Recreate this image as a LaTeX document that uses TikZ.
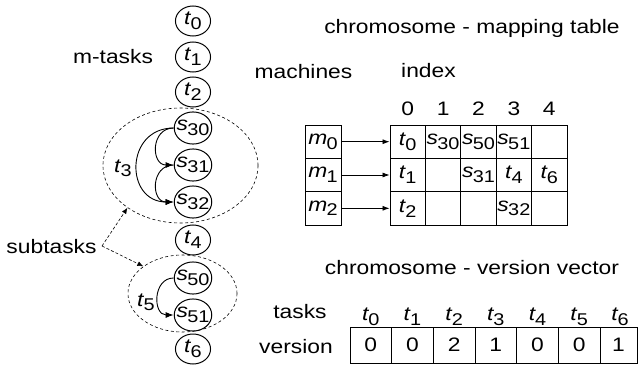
\documentclass[tikz,border=0pt]{standalone}
\usepackage{fontspec}
\setmainfont{Liberation Sans}
\usepackage{graphicx}
\usetikzlibrary{arrows.meta,shapes.geometric}
\newcommand{\tsb}[2]{\textit{#1}\kern-0.03em\raisebox{-0.25em}{\fontsize{17}{17}\selectfont #2}}
\begin{document}
\begin{tikzpicture}[x=1pt,y=-1pt,
  every node/.style={xscale=1.17, inner sep=0pt, font=\fontsize{19.5}{22}\selectfont},
  tk/.style={circle, draw, line width=1pt, minimum size=30pt},
  lbl/.style={anchor=base},
  mcell/.style={draw, line width=0.8pt, minimum width=30.26pt, minimum height=33.33pt},
  vcell/.style={draw, line width=0.8pt, minimum width=35.6pt, minimum height=36pt},
  grp/.style={ellipse, draw, dash pattern=on 3pt off 2.5pt, line width=0.6pt},
  arr/.style={-{Latex[length=8pt,width=6pt]}, line width=0.9pt},
  darr/.style={dash pattern=on 3pt off 2pt, line width=0.6pt, -{Latex[length=6pt,width=5pt]}},
  marr/.style={line width=0.7pt, -{Latex[length=7pt,width=5pt]}}
]
\useasboundingbox (0,0) rectangle (638,372);
% groups
\node[grp, minimum width=132.5pt, minimum height=115pt] (e3) at (180.5,165.5) {};
\node[grp, minimum width=93.2pt, minimum height=77pt] (e5) at (182.5,293.5) {};
% task column
\node[tk] (t0) at (193,21) {\tsb{t}{0}};
\node[tk] (t1) at (193,57) {\tsb{t}{1}};
\node[tk] (t2) at (193,92) {\tsb{t}{2}};
\node[tk] (s30) at (193,128) {\tsb{s}{30}};
\node[tk] (s31) at (193,165) {\tsb{s}{31}};
\node[tk] (s32) at (193,202) {\tsb{s}{32}};
\node[tk] (t4) at (193,240) {\tsb{t}{4}};
\node[tk] (s50) at (193,278) {\tsb{s}{50}};
\node[tk] (s51) at (193,315) {\tsb{s}{51}};
\node[tk] (t6) at (193,349) {\tsb{t}{6}};
\draw[arr] (s30.west) .. controls +(-23,0) and +(-23,0) .. (s31.west);
\draw[arr] (s31.west) .. controls +(-23,0) and +(-23,0) .. (s32.west);
\draw[arr] (s30.west) .. controls +(-49,0) and +(-49,0) .. (s32.west);
\draw[arr] (s50.west) .. controls +(-21,0) and +(-21,0) .. (s51.west);
% labels left
\node[lbl] (mt) at (113,63) {m-tasks};
\node[lbl] (l3) at (123,172) {\tsb{t}{3}};
\node[lbl] (l5) at (146,306) {\tsb{t}{5}};
\node[lbl] (subt) at (51.5,253) {subtasks};
\coordinate (sj) at (102,246);
\draw[darr] (sj) -- (e3.223);
\draw[darr] (sj) -- (e5.141);
% mapping table
\node[lbl] (cm) at (472,34) {chromosome - mapping table};
\node[lbl] (mach) at (303.5,78) {machines};
\node[lbl] (idx) at (428.5,77) {index};
\node[lbl] (i0) at (407.7,115) {0};
\node[lbl] (i1) at (443.1,115) {1};
\node[lbl] (i2) at (478.5,115) {2};
\node[lbl] (i3) at (513.9,115) {3};
\node[lbl] (i4) at (549.3,115) {4};
\node[mcell, minimum width=30.77pt] (m0) at (323,141.7) {\tsb{m}{0}};
\node[mcell, minimum width=30.77pt] (m1) at (323,175) {\tsb{m}{1}};
\node[mcell, minimum width=30.77pt] (m2) at (323,208.3) {\tsb{m}{2}};
\node[mcell] (c00) at (407.7,141.7) {\tsb{t}{0}};
\node[mcell] (c01) at (443.1,141.7) {\tsb{s}{30}};
\node[mcell] (c02) at (478.5,141.7) {\tsb{s}{50}};
\node[mcell] (c03) at (513.9,141.7) {\tsb{s}{51}};
\node[mcell] (c04) at (549.3,141.7) {};
\node[mcell] (c10) at (407.7,175) {\tsb{t}{1}};
\node[mcell] (c11) at (443.1,175) {};
\node[mcell] (c12) at (478.5,175) {\tsb{s}{31}};
\node[mcell] (c13) at (513.9,175) {\tsb{t}{4}};
\node[mcell] (c14) at (549.3,175) {\tsb{t}{6}};
\node[mcell] (c20) at (407.7,208.3) {\tsb{t}{2}};
\node[mcell] (c21) at (443.1,208.3) {};
\node[mcell] (c22) at (478.5,208.3) {};
\node[mcell] (c23) at (513.9,208.3) {\tsb{s}{32}};
\node[mcell] (c24) at (549.3,208.3) {};
\draw[marr] (m0) -- (c00);
\draw[marr] (m1) -- (c10);
\draw[marr] (m2) -- (c20);
% version vector
\node[lbl] (cv) at (472,274) {chromosome - version vector};
\node[lbl] (tasks) at (300,318) {tasks};
\node[lbl] (vers) at (296,353) {version};
\node[lbl] (vt0) at (370.8,320.7) {\tsb{t}{0}};
\node[lbl] (vt1) at (412.5,320.7) {\tsb{t}{1}};
\node[lbl] (vt2) at (454.2,320.7) {\tsb{t}{2}};
\node[lbl] (vt3) at (495.8,320.7) {\tsb{t}{3}};
\node[lbl] (vt4) at (537.5,320.7) {\tsb{t}{4}};
\node[lbl] (vt5) at (579.2,320.7) {\tsb{t}{5}};
\node[lbl] (vt6) at (620,320.7) {\tsb{t}{6}};
\node[vcell] (v0) at (370.8,345) {0};
\node[vcell] (v1) at (412.5,345) {0};
\node[vcell] (v2) at (454.2,345) {2};
\node[vcell] (v3) at (495.8,345) {1};
\node[vcell] (v4) at (537.5,345) {0};
\node[vcell] (v5) at (579.2,345) {0};
\node[vcell, minimum width=31.6pt] (v6) at (618.5,345) {1};
\end{tikzpicture}
\end{document}
